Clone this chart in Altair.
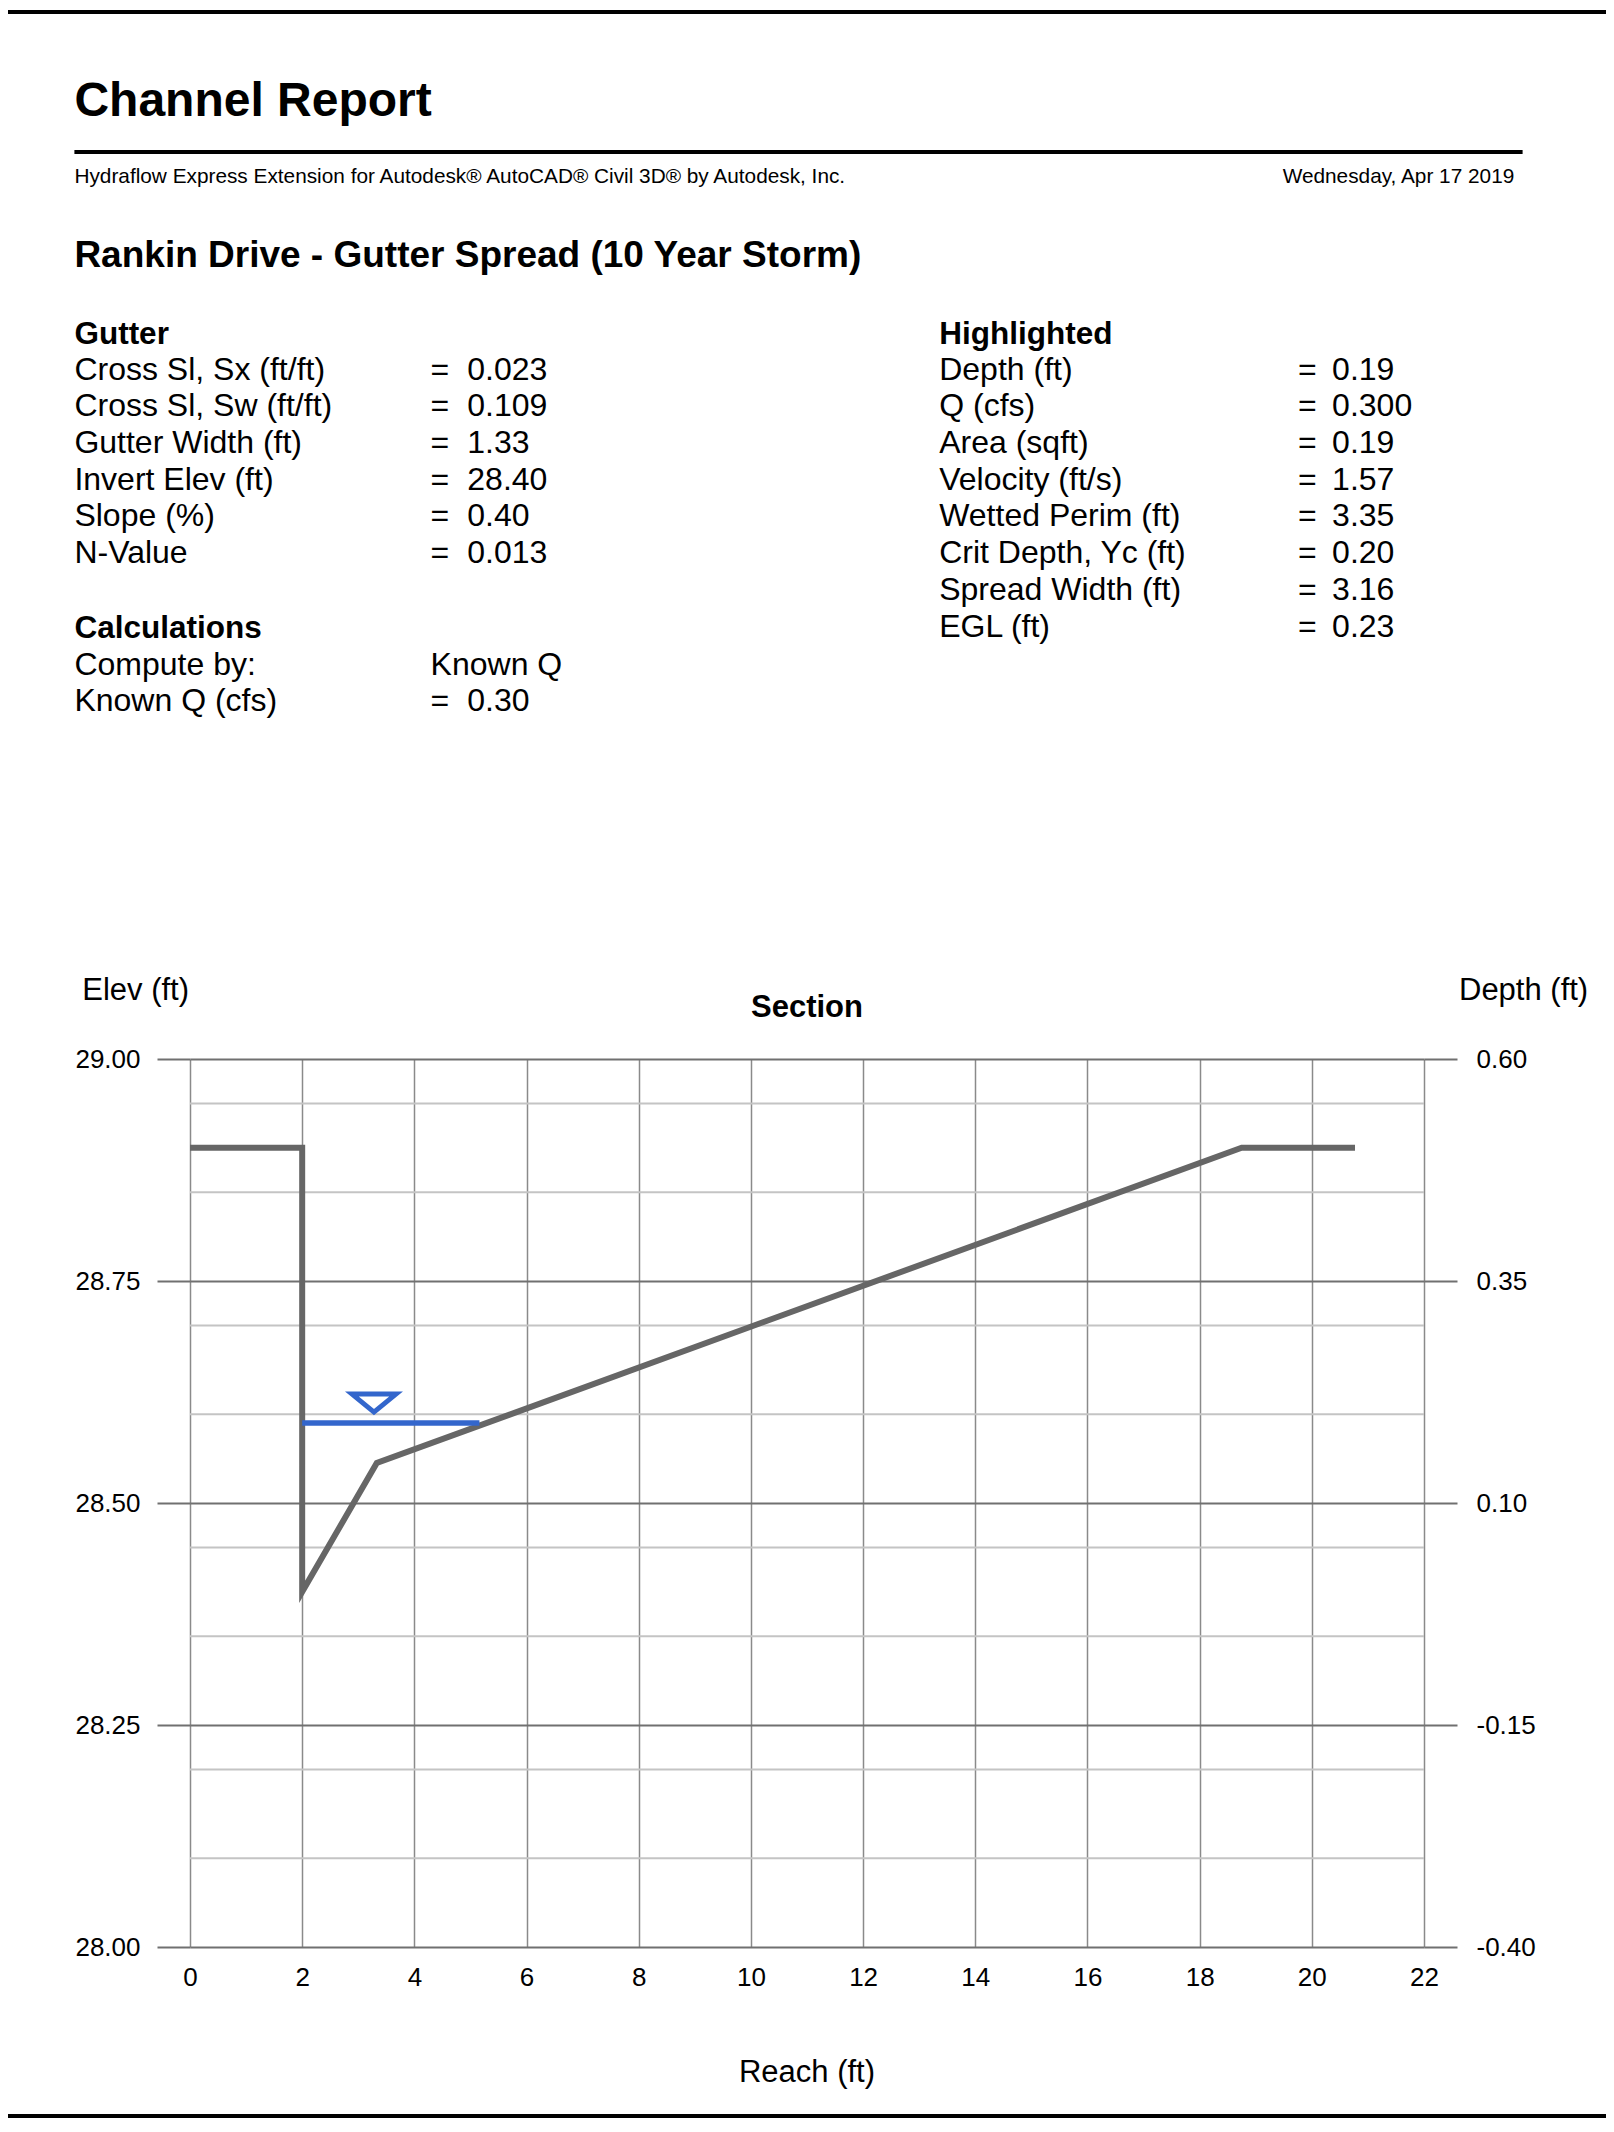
import altair as alt
import pandas as pd

FONT = "Liberation Sans"

# ---------------- data ----------------
reach = [0.0, 2.0, 2.0, 3.33, 18.75, 20.77]
elev = [28.90, 28.90, 28.40, 28.545, 28.90, 28.90]

water_reach = [2.0, 5.16]
water_depth = [0.19, 0.19]

marker_reach = [3.28]
marker_depth = [0.19]

minor_elev = [28.10, 28.20, 28.35, 28.45, 28.60, 28.70, 28.85, 28.95]

x_ticks = [0, 2, 4, 6, 8, 10, 12, 14, 16, 18, 20, 22]
elev_ticks = [28.00, 28.25, 28.50, 28.75, 29.00]
depth_ticks = [-0.40, -0.15, 0.10, 0.35, 0.60]

report_title = "Channel Report"
subtitle = "Hydraflow Express Extension for Autodesk® AutoCAD® Civil 3D® by Autodesk, Inc."
report_date = "Wednesday, Apr 17 2019"
project_title = "Rankin Drive - Gutter Spread (10 Year Storm)"

gutter_header = "Gutter"
gutter_labels = ["Cross Sl, Sx (ft/ft)", "Cross Sl, Sw (ft/ft)", "Gutter Width (ft)",
                 "Invert Elev (ft)", "Slope (%)", "N-Value"]
gutter_values = ["0.023", "0.109", "1.33", "28.40", "0.40", "0.013"]

calc_header = "Calculations"
calc_labels = ["Compute by:", "Known Q (cfs)"]
calc_method = "Known Q"
calc_values = ["0.30"]

hl_header = "Highlighted"
hl_labels = ["Depth (ft)", "Q (cfs)", "Area (sqft)", "Velocity (ft/s)", "Wetted Perim (ft)",
             "Crit Depth, Yc (ft)", "Spread Width (ft)", "EGL (ft)"]
hl_values = ["0.19", "0.300", "0.19", "1.57", "3.35", "0.20", "3.16", "0.23"]

chart_title = "Section"
left_title = "Elev (ft)"
right_title = "Depth (ft)"
x_title = "Reach (ft)"

# ---------------- layout constants ----------------
W, H = 1234, 888
PAD_L, PAD_T, PAD_R, PAD_B = 182, 1051, 182, 172
LH = 36.7
BODY = 32
HEAD = 31.5

# ---------------- scales / axes ----------------
x_scale = alt.Scale(domain=[x_ticks[0], x_ticks[-1]], nice=False, zero=False)
elev_scale = alt.Scale(domain=[elev_ticks[0], elev_ticks[-1]], nice=False, zero=False)
depth_scale = alt.Scale(domain=[depth_ticks[0], depth_ticks[-1]], nice=False, zero=False)

x_axis = alt.Axis(values=x_ticks, format="d", grid=True, gridColor="#8a8a8a", gridWidth=1.5,
                  ticks=False, tickSize=0, domain=False, labelPadding=17, labelFontSize=26,
                  labelFont=FONT, labelColor="#000000", title=None, labelFlush=False,
                  labelOverlap=False)
elev_axis = alt.Axis(values=elev_ticks, format=".2f", orient="left", grid=True,
                     gridColor="#707070", gridWidth=2, tickSize=33, tickColor="#707070",
                     tickWidth=2, domain=False, labelPadding=17, labelFontSize=26,
                     labelFont=FONT, labelColor="#000000", title=None, labelFlush=False,
                     labelOverlap=False)
depth_axis = alt.Axis(values=depth_ticks, format=".2f", orient="right", grid=False,
                      tickSize=33, tickColor="#707070", tickWidth=2, domain=False,
                      labelPadding=19, labelFontSize=26, labelFont=FONT,
                      labelColor="#000000", title=None, labelFlush=False, labelOverlap=False,
                      labelExpr="replace(datum.label, '\u2212', '-')")

# ---------------- plot layers ----------------
profile_df = pd.DataFrame({"reach": reach, "elev": elev, "order": list(range(len(reach)))})
minor_df = pd.DataFrame({"elev": minor_elev,
                         "x0": [x_ticks[0]] * len(minor_elev),
                         "x1": [x_ticks[-1]] * len(minor_elev)})
water_df = pd.DataFrame({"reach": water_reach, "depth": water_depth})
marker_df = pd.DataFrame({"reach": marker_reach, "depth": marker_depth})

minor = alt.Chart(minor_df).mark_rule(color="#c4c4c4", strokeWidth=2).encode(
    x=alt.X("x0:Q", scale=x_scale, axis=x_axis),
    x2="x1:Q",
    y=alt.Y("elev:Q", scale=elev_scale, axis=elev_axis),
)

profile = alt.Chart(profile_df).mark_line(color="#666666", strokeWidth=6, strokeJoin="miter").encode(
    x=alt.X("reach:Q", scale=x_scale, axis=x_axis),
    y=alt.Y("elev:Q", scale=elev_scale, axis=elev_axis),
    order="order:Q",
)

water = alt.Chart(water_df).mark_line(color="#3366cc", strokeWidth=5.5).encode(
    x=alt.X("reach:Q", scale=x_scale, axis=x_axis),
    y=alt.Y("depth:Q", scale=depth_scale, axis=depth_axis),
)

marker = alt.Chart(marker_df).mark_point(
    shape="M-1,-0.41L1,-0.41L0,0.41Z", size=1936, filled=False, color="#3366cc",
    strokeWidth=5, opacity=1, yOffset=-20, strokeJoin="miter",
).encode(
    x=alt.X("reach:Q", scale=x_scale, axis=x_axis),
    y=alt.Y("depth:Q", scale=depth_scale, axis=depth_axis),
)


# ---------------- text & decoration helpers ----------------
def txt(s, x, y, size=BODY, bold=False, align="left"):
    df = pd.DataFrame({"t": [s]})
    return alt.Chart(df).mark_text(
        font=FONT, fontSize=size, fontWeight="bold" if bold else "normal",
        align=align, baseline="alphabetic", color="#000000",
        lineBreak="\n", lineHeight=LH,
    ).encode(x=alt.value(x), y=alt.value(y), text="t:N")


def hrule(x1, x2, y, width=4):
    df = pd.DataFrame({"k": [0]})
    return alt.Chart(df).mark_rule(color="#000000", strokeWidth=width).encode(
        x=alt.value(x1), x2=alt.value(x2), y=alt.value(y))


LX = -115.6
ROW0 = -679.3
texts = [
    hrule(-PAD_L, W + PAD_R, -1047),
    txt(report_title, LX, -943, size=48, bold=True),
    hrule(LX, 1332.6, -907),
    txt(subtitle, LX, -876.4, size=20.8),
    txt(report_date, 1324.3, -876.4, size=20.8, align="right"),
    txt(project_title, LX, -792.4, size=37, bold=True),
    # Gutter block
    txt(gutter_header, LX, -714.8, size=HEAD, bold=True),
    txt("\n".join(gutter_labels), LX, ROW0),
    txt("\n".join(["="] * len(gutter_values)), 240.6, ROW0),
    txt("\n".join(gutter_values), 277.3, ROW0),
    # Calculations block
    txt(calc_header, LX, -420.8, size=HEAD, bold=True),
    txt("\n".join(calc_labels), LX, -384.3),
    txt(calc_method + "\n=", 240.6, -384.3),
    txt(calc_values[0], 277.3, -384.3 + LH),
    # Highlighted block
    txt(hl_header, 749.2, -714.8, size=HEAD, bold=True),
    txt("\n".join(hl_labels), 749.2, ROW0),
    txt("\n".join(["="] * len(hl_values)), 1108.1, ROW0),
    txt("\n".join(hl_values), 1142.1, ROW0),
    # chart titles
    txt(left_title, -54.4, -59.3, size=31, align="center"),
    txt(chart_title, W / 2, -41.8, size=31, bold=True, align="center"),
    txt(right_title, 1333.6, -59.3, size=31, align="center"),
    txt(x_title, W / 2, 1023.2, size=31, align="center"),
    hrule(-PAD_L, W + PAD_R, H + PAD_B - 3),
]

elev_group = alt.layer(minor, profile, *texts)
depth_group = alt.layer(water, marker)

chart = (
    alt.layer(elev_group, depth_group)
    .resolve_scale(y="independent")
    .properties(
        width=W, height=H,
        padding={"left": PAD_L, "top": PAD_T, "right": PAD_R, "bottom": PAD_B},
        autosize=alt.AutoSizeParams(type="none"),
        background="#ffffff",
    )
    .configure_view(stroke=None)
)

chart.save("out.html", embed_options={"renderer": "svg", "actions": False})
